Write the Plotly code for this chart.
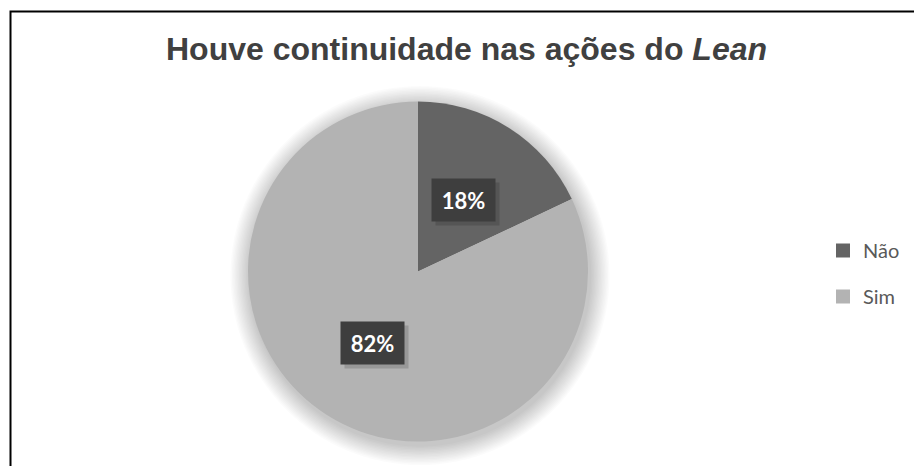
import math
import plotly.graph_objects as go

# ---- data ----
categories = ["Não", "Sim"]
values = [18, 82]
colors = ["#646464", "#b3b3b3"]
title_text = "Houve continuidade nas ações do <i>Lean</i>"

W, H = 914, 466

# pie placement in pixels
pie_left, pie_right = 248, 588
pie_top, pie_bottom = 101, 442
cx_px = (pie_left + pie_right) / 2
cy_px = (pie_top + pie_bottom) / 2
r_px = (pie_right - pie_left) / 2

fig = go.Figure()

fig.add_trace(go.Pie(
    labels=categories,
    values=values,
    marker=dict(colors=colors, line=dict(width=0)),
    sort=False,
    direction="clockwise",
    rotation=0,
    textinfo="none",
    hoverinfo="label+percent",
    showlegend=False,
    domain=dict(x=[pie_left / W, pie_right / W], y=[1 - pie_bottom / H, 1 - pie_top / H]),
))

# legend via dummy traces (for spacing control)
for i, (cat, col) in enumerate(zip(categories, colors)):
    fig.add_trace(go.Scatter(
        x=[None], y=[None], mode="markers", name=cat,
        marker=dict(symbol="square", size=14, color=col),
        legendgroup=f"g{i}", showlegend=True,
    ))

# soft shadow around the pie
for k in range(14):
    rr = r_px + 1.4 * (k + 1)
    fig.add_shape(
        type="circle", xref="paper", yref="paper", layer="below",
        x0=(cx_px + 2 - rr) / W, x1=(cx_px + 2 + rr) / W,
        y0=1 - (cy_px + 4 + rr) / H, y1=1 - (cy_px + 4 - rr) / H,
        fillcolor="rgba(0,0,0,0.016)", line=dict(width=0),
    )

# percentage labels in dark boxes at half radius along slice mid-angle
total = sum(values)
cum = 0
for v in values:
    mid = (cum + v / 2) / total * 2 * math.pi
    cum += v
    lx = cx_px + 0.5 * r_px * math.sin(mid)
    ly = cy_px - 0.5 * r_px * math.cos(mid)
    # box shadow
    fig.add_annotation(
        x=(lx + 4) / W, y=1 - (ly + 4) / H, xref="paper", yref="paper",
        xanchor="center", yanchor="middle",
        text=" ", showarrow=False, width=55, height=34, borderpad=4,
        bgcolor="rgba(0,0,0,0.15)",
    )
    fig.add_annotation(
        x=lx / W, y=1 - ly / H, xref="paper", yref="paper",
        xanchor="center", yanchor="middle",
        text=f"<b>{round(v / total * 100)}%</b>", showarrow=False,
        font=dict(family="Lato, Open Sans, sans-serif", size=22, color="white"),
        width=55, height=34, borderpad=4, bgcolor="#3e3e3e",
    )

# title
fig.add_annotation(
    x=467 / W, y=1 - 49 / H, xref="paper", yref="paper",
    text=f"<b>{title_text}</b>", showarrow=False,
    font=dict(family="Liberation Sans, Arial, sans-serif", size=32, color="#404040"),
    xanchor="center", yanchor="middle",
)

# chart border (top and left visible; right/bottom beyond edge)
fig.add_shape(
    type="rect", xref="paper", yref="paper", layer="above",
    x0=10.5 / W, x1=1.01, y0=-0.01, y1=1 - 11.5 / H,
    line=dict(color="black", width=2), fillcolor="rgba(0,0,0,0)",
)

fig.update_layout(
    width=W, height=H,
    margin=dict(l=0, r=0, t=0, b=0),
    paper_bgcolor="white", plot_bgcolor="white",
    xaxis=dict(visible=False), yaxis=dict(visible=False),
    legend=dict(
        x=823 / W, y=1 - 231 / H, xanchor="left", yanchor="top",
        font=dict(family="Lato, Open Sans, sans-serif", size=20, color="#595959"),
        tracegroupgap=17, bgcolor="rgba(0,0,0,0)",
        itemwidth=30,
    ),
)

fig.write_html("out.html")
